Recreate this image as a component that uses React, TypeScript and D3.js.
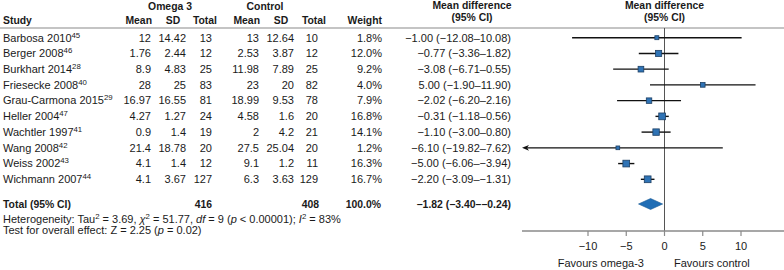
import React from "react";
import * as d3 from "d3";

const studies = ["Barbosa 2010", "Berger 2008", "Burkhart 2014", "Friesecke 2008", "Grau-Carmona 2015", "Heller 2004", "Wachtler 1997", "Wang 2008", "Weiss 2002", "Wichmann 2007"];
const refs = ["45", "46", "28", "40", "29", "47", "41", "42", "43", "44"];
const omegaMean = ["12", "1.76", "8.9", "28", "16.97", "4.27", "0.9", "21.4", "4.1", "4.1"];
const omegaSD = ["14.42", "2.44", "4.83", "25", "16.55", "1.27", "1.4", "18.78", "1.4", "3.67"];
const omegaTotal = ["13", "12", "25", "83", "81", "24", "19", "20", "12", "127"];
const controlMean = ["13", "2.53", "11.98", "23", "18.99", "4.58", "2", "27.5", "9.1", "6.3"];
const controlSD = ["12.64", "3.87", "7.89", "20", "9.53", "1.6", "4.2", "25.04", "1.2", "3.63"];
const controlTotal = ["10", "12", "25", "82", "78", "20", "21", "20", "11", "129"];
const weights = [1.8, 12.0, 9.2, 4.0, 7.9, 16.8, 14.1, 1.2, 16.3, 16.7];
const md = [-1.0, -0.77, -3.08, 5.0, -2.02, -0.31, -1.1, -6.1, -5.0, -2.2];
const lo = [-12.08, -3.36, -6.71, -1.9, -6.2, -1.18, -3.0, -19.82, -6.06, -3.09];
const hi = [10.08, 1.82, 0.55, 11.9, 2.16, 0.56, 0.8, 7.62, -3.94, -1.31];
const totalMd = -1.82;
const totalLo = -3.4;
const totalHi = -0.24;
const totalOmega = "416";
const totalControl = "408";
const tickValues = [-10, -5, 0, 5, 10];

const fmt = (v: number) => d3.format(".2f")(v).replace("-", "−");
const ciText = (m: number, l: number, h: number) => `${fmt(m)} (${fmt(l)}–${fmt(h)})`;

export default function App() {
  const W = 784, H = 270;
  const x = d3.scaleLinear().domain([-10, 10]).range([588, 741]);
  const axisLeft = 522, axisRight = 784;
  const yRow = d3.scaleLinear().domain([0, 9]).range([37.7, 179.3]);
  const yTotal = 204;
  const yAxis = 231;
  const size = d3.scaleSqrt().domain([0, 17]).range([2.6, 6.8]);
  const font = "'Liberation Sans', Arial, Helvetica, sans-serif";
  const fs = 11;
  const fsb = 10.4;
  const sup = 7.8;
  const up = -4;
  const tc = "#1a1a1a";

  const cols = [
    { vals: omegaMean, x: 151 },
    { vals: omegaSD, x: 186 },
    { vals: omegaTotal, x: 212 },
    { vals: controlMean, x: 259 },
    { vals: controlSD, x: 294 },
    { vals: controlTotal, x: 318 },
  ];

  return (
    <svg width={W} height={H} style={{ position: "absolute", left: 0, top: 0 }} fontFamily={font} fontSize={fs} fill={tc}>
      <rect width={W} height={H} fill="#fff" />
      {/* headers */}
      <g fontWeight="bold" fontSize={fsb}>
        <text x={170} y={6} dy="0.35em" textAnchor="middle">Omega 3</text>
        <text x={265} y={6} dy="0.35em" textAnchor="middle">Control</text>
        <text x={3} y={20} dy="0.35em">Study</text>
        <text x={152} y={20} dy="0.35em" textAnchor="end">Mean</text>
        <text x={173} y={20} dy="0.35em" textAnchor="middle">SD</text>
        <text x={217} y={20} dy="0.35em" textAnchor="end">Total</text>
        <text x={260} y={20} dy="0.35em" textAnchor="end">Mean</text>
        <text x={281} y={20} dy="0.35em" textAnchor="middle">SD</text>
        <text x={326} y={20} dy="0.35em" textAnchor="end">Total</text>
        <text x={382} y={20} dy="0.35em" textAnchor="end">Weight</text>
        <text x={472} y={5} dy="0.35em" textAnchor="middle">Mean difference</text>
        <text x={472} y={17} dy="0.35em" textAnchor="middle">(95% CI)</text>
        <text x={x(0)} y={5} dy="0.35em" textAnchor="middle">Mean difference</text>
        <text x={x(0)} y={17} dy="0.35em" textAnchor="middle">(95% CI)</text>
      </g>
      <line x1={0} x2={W} y1={28} y2={28} stroke="#8a8a8a" strokeWidth={1.2} />

      {/* study rows */}
      {studies.map((s, i) => {
        const y = yRow(i);
        return (
          <g key={s}>
            <text x={3} y={y} dy="0.35em">
              {s}
              <tspan fontSize={sup} dy={up}>{refs[i]}</tspan>
            </text>
            {cols.map((c, j) => (
              <text key={j} x={c.x} y={y} dy="0.35em" textAnchor="end">{c.vals[i]}</text>
            ))}
            <text x={382} y={y} dy="0.35em" textAnchor="end">{d3.format(".1f")(weights[i])}%</text>
            <text x={511} y={y} dy="0.35em" textAnchor="end">{ciText(md[i], lo[i], hi[i])}</text>
          </g>
        );
      })}

      {/* total row */}
      <g fontWeight="bold" fontSize={fsb}>
        <text x={3} y={yTotal} dy="0.35em">Total (95% CI)</text>
        <text x={212} y={yTotal} dy="0.35em" textAnchor="end">{totalOmega}</text>
        <text x={319} y={yTotal} dy="0.35em" textAnchor="end">{totalControl}</text>
        <text x={381} y={yTotal} dy="0.35em" textAnchor="end">100.0%</text>
        <text x={511} y={yTotal} dy="0.35em" textAnchor="end">{ciText(totalMd, totalLo, totalHi)}</text>
      </g>
      <text x={3} y={219.5} dy="0.35em">
        Heterogeneity: Tau<tspan fontSize={sup} dy={up}>2</tspan><tspan dy={-up}> = 3.69, </tspan>
        <tspan fontStyle="italic">χ</tspan><tspan fontSize={sup} dy={up}>2</tspan><tspan dy={-up}> = 51.77, </tspan>
        <tspan fontStyle="italic">df</tspan> = 9 (<tspan fontStyle="italic">p</tspan> &lt; 0.00001); <tspan fontStyle="italic">I</tspan>
        <tspan fontSize={sup} dy={up}>2</tspan><tspan dy={-up}> = 83%</tspan>
      </text>
      <text x={3} y={230.5} dy="0.35em">
        Test for overall effect: Z = 2.25 (<tspan fontStyle="italic">p</tspan> = 0.02)
      </text>

      {/* forest plot */}
      <line x1={x(0)} x2={x(0)} y1={28} y2={yAxis} stroke="#555" strokeWidth={1} />
      {studies.map((s, i) => {
        const y = yRow(i);
        const x1 = Math.max(x(lo[i]), axisLeft);
        const clipped = x(lo[i]) < axisLeft;
        const sz = size(weights[i]);
        return (
          <g key={"p" + s}>
            <line x1={clipped ? x1 + 5 : x1} x2={x(hi[i])} y1={y} y2={y} stroke="#111" strokeWidth={1.4} />
            {clipped && (
              <path d={`M${x1},${y} L${x1 + 7},${y - 2.8} L${x1 + 5},${y} L${x1 + 7},${y + 2.8} Z`} fill="#111" />
            )}
            <rect x={x(md[i]) - sz / 2} y={y - sz / 2} width={sz} height={sz} fill="#2f73b5" stroke="#1d3f63" strokeWidth={0.8} />
          </g>
        );
      })}
      <path
        d={`M${x(totalLo)},${yTotal} L${x(totalMd)},${yTotal - 5.5} L${x(totalHi)},${yTotal} L${x(totalMd)},${yTotal + 5.5} Z`}
        fill="#1f6db5"
        stroke="#1a5a96"
        strokeWidth={0.6}
      />

      {/* axis */}
      <line x1={axisLeft} x2={axisRight} y1={yAxis} y2={yAxis} stroke="#8a8a8a" strokeWidth={1.3} />
      {tickValues.map((t) => (
        <g key={t}>
          <line x1={x(t)} x2={x(t)} y1={yAxis} y2={yAxis + 5} stroke="#8a8a8a" strokeWidth={1.2} />
          <text x={x(t)} y={246} dy="0.35em" textAnchor="middle">{t < 0 ? "−" + Math.abs(t) : String(t)}</text>
        </g>
      ))}
      <text x={644} y={263} dy="0.35em" textAnchor="end">Favours omega-3</text>
      <text x={674} y={263} dy="0.35em">Favours control</text>
    </svg>
  );
}
